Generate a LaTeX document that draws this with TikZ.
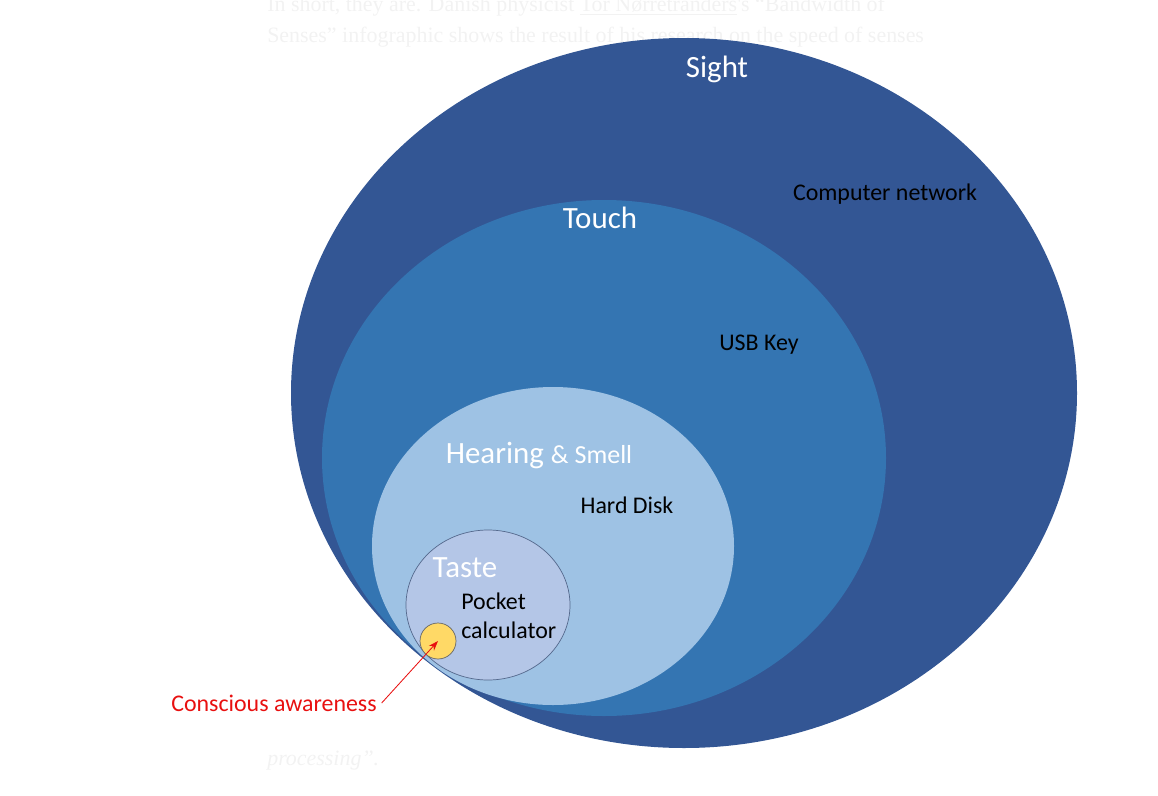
\documentclass[tikz,border=0pt]{standalone}
\usepackage{fontspec}
\setmainfont{Carlito}
\newfontfamily\pagefont{Liberation Serif}
\usetikzlibrary{arrows.meta}
\definecolor{sightblue}{RGB}{51,86,148}
\definecolor{touchblue}{RGB}{52,117,178}
\definecolor{hearblue}{RGB}{158,194,228}
\definecolor{tasteblue}{RGB}{180,198,231}
\definecolor{tasteline}{RGB}{84,104,140}
\definecolor{awareyellow}{RGB}{255,217,102}
\definecolor{awarered}{RGB}{232,16,16}
\definecolor{pagegrey}{RGB}{242,242,242}
\tikzset{
  sense/.style={text=white, font=\fontsize{22}{26}\selectfont},
  store/.style={text=black, font=\fontsize{17}{20.6}\selectfont},
  pagetext/.style={text=pagegrey, anchor=base west, inner sep=0pt, font=\pagefont\fontsize{15.6}{18}\selectfont}
}
\begin{document}
\begin{tikzpicture}[x=0.025cm,y=-0.025cm]
    \useasboundingbox (0,0) rectangle (1158,796);

    % tekst halaman di belakang
    \node[pagetext] (line1) at (267,11) {In short, they are. Danish physicist \underline{Tor Nørretranders}'s “Bandwidth of};
    \node[pagetext] (line2) at (267,42) {Senses” infographic shows the result of his research on the speed of senses};
    \node[pagetext, font=\pagefont\itshape\fontsize{15.6}{18}\selectfont] (line3) at (267,765) {processing”.};

    % elips-elips indera
    \fill[sightblue] (684,393) ellipse [x radius=393, y radius=355];
    \fill[touchblue] (604,458) ellipse [x radius=282, y radius=258];
    \fill[hearblue] (553,546) ellipse [x radius=181, y radius=159];
    \draw[tasteline, line width=0.5pt, fill=tasteblue] (488,605) ellipse [x radius=82, y radius=75];

    % kesadaran
    \node[circle, draw=gray!80!black, line width=0.5pt, fill=awareyellow, minimum size=36*0.025cm, inner sep=0pt] (aware) at (438,641) {};

    % label
    \node[sense] (sight) at (717,69) {Sight};
    \node[store] (network) at (885,194) {Computer network};
    \node[sense] (touch) at (600,218) {Touch};
    \node[store] (usb) at (759,345) {USB Key};
    \node[sense] (hearing) at (539,456) {Hearing {\fontsize{18.5}{22}\selectfont\&~Smell}};
    \node[store] (disk) at (627,505) {Hard Disk};
    \node[sense] (taste) at (465,568) {Taste};
    \node[store, align=left, anchor=west, inner sep=0pt] (calc) at (461,616) {Pocket\\calculator};
    \node[store, text=awarered] (conscious) at (274,703) {Conscious awareness};

    \draw[awarered, line width=0.6pt, -{Stealth[length=7pt, width=5pt]}] (conscious.east) -- (aware.center);
    \end{tikzpicture}
\end{document}
